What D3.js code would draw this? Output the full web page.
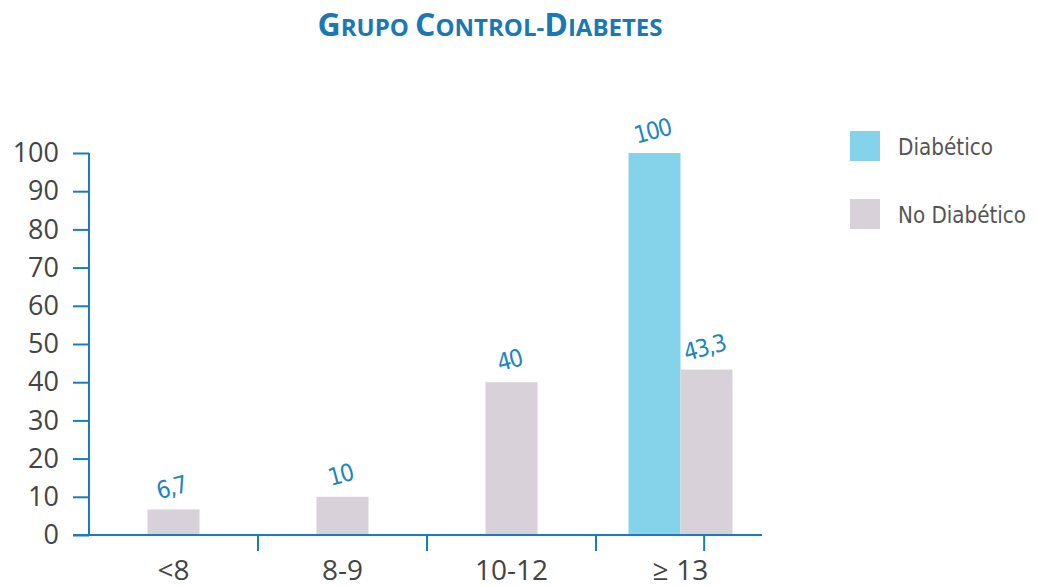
<!DOCTYPE html>
<html>
<head>
<meta charset="utf-8">
<script src="https://cdn.jsdelivr.net/npm/d3@7"></script>
<style>
  html, body { margin: 0; padding: 0; background: #fff; }
  svg { display: block; }
</style>
</head>
<body>
<svg id="chart" width="1037" height="587"></svg>
<script>
// ---- data ----
const categories = ["<8", "8-9", "10-12", "\u2265 13"];
const seriesNames = ["Diabético", "No Diabético"];
const diabetico = [null, null, null, 100];
const noDiabetico = [6.7, 10, 40, 43.3];
const yTicks = [0, 10, 20, 30, 40, 50, 60, 70, 80, 90, 100];
const titleParts = [["G", "big"], ["RUPO ", "small"], ["C", "big"], ["ONTROL-", "small"], ["D", "big"], ["IABETES", "small"]];

// ---- styles ----
const colors = { "Diabético": "#85d3ea", "No Diabético": "#d9d1d9" };
const axisColor = "#1a7db9";
const labelBlue = "#1c86c0";
const textGrey = "#444";
const narrow = "'DejaVu Sans Condensed', 'Liberation Sans Narrow', sans-serif";

const svg = d3.select("#chart");

const x = d3.scaleBand().domain(categories).range([89, 765]).padding(0);
const y = d3.scaleLinear().domain([0, 100]).range([535, 153]);
const barW = 52;

// title
const title = svg.append("text")
  .attr("x", 490).attr("y", 36)
  .attr("text-anchor", "middle")
  .attr("font-family", "'Open Sans', sans-serif")
  .attr("font-weight", 700)
  .attr("fill", "#1a78b5");
titleParts.forEach(([t, s]) => {
  title.append("tspan").text(t).attr("font-size", s === "big" ? 32 : 24);
});

// bars data
const bars = [];
categories.forEach((c, i) => {
  const vals = [diabetico[i], noDiabetico[i]];
  const present = vals.map((v, k) => ({ v, k })).filter(d => d.v != null);
  const center = x(c) + x.bandwidth() / 2;
  const start = center - present.length * barW / 2;
  present.forEach((d, j) => {
    bars.push({ cat: c, series: seriesNames[d.k], value: d.v, x0: start + j * barW });
  });
});

svg.append("g").selectAll("rect").data(bars).join("rect")
  .attr("x", d => d.x0)
  .attr("y", d => y(d.value))
  .attr("width", barW)
  .attr("height", d => y(0) - y(d.value))
  .attr("fill", d => colors[d.series]);

// value labels
svg.append("g").selectAll("text").data(bars).join("text")
  .attr("transform", d => `translate(${d.x0 + barW / 2},${y(d.value) - 14}) rotate(-15)`)
  .attr("text-anchor", "middle")
  .attr("font-family", narrow)
  .attr("font-size", 24)
  .attr("letter-spacing", -1.5)
  .attr("fill", labelBlue)
  .text(d => String(d.value).replace(".", ","));

// y axis
const yAxis = svg.append("g")
  .attr("transform", "translate(89,0)")
  .call(d3.axisLeft(y).tickValues(yTicks).tickSize(16).tickPadding(14));
yAxis.select(".domain").attr("stroke", axisColor).attr("stroke-width", 2).attr("d", `M0,${y(100)}V${y(0)}`);
yAxis.selectAll(".tick line").attr("stroke", axisColor).attr("stroke-width", 2);
yAxis.selectAll(".tick text")
  .attr("font-family", "'Open Sans', sans-serif")
  .attr("font-size", 27)
  .attr("fill", textGrey);

// x axis
const xAxis = svg.append("g")
  .attr("transform", `translate(0,${y(0)})`)
  .call(d3.axisBottom(x).tickSize(0));
xAxis.select(".domain").attr("stroke", axisColor).attr("stroke-width", 2).attr("d", "M73,0H762");
xAxis.selectAll(".tick text")
  .attr("font-family", "'Open Sans', sans-serif")
  .attr("font-size", 28)
  .attr("fill", textGrey)
  .attr("y", 45)
  .attr("dy", 0);
// boundary ticks
const boundaries = categories.slice(1).map(c => x(c));
boundaries.push(x(categories[3]) + x.bandwidth() * 0.64);
xAxis.selectAll(".bound").data(boundaries).join("line")
  .attr("class", "bound")
  .attr("x1", d => d).attr("x2", d => d)
  .attr("y1", 0).attr("y2", 16)
  .attr("stroke", axisColor).attr("stroke-width", 2);

// legend
const legendWidths = [95, 128];
const legend = svg.append("g").selectAll("g").data(seriesNames).join("g")
  .attr("transform", (d, i) => `translate(850,${131 + i * 68})`);
legend.append("rect").attr("width", 30).attr("height", 30).attr("fill", d => colors[d]);
legend.append("text")
  .attr("x", 48).attr("y", 24)
  .attr("font-family", narrow)
  .attr("font-size", 23)
  .attr("textLength", (d, i) => legendWidths[i])
  .attr("lengthAdjust", "spacingAndGlyphs")
  .attr("fill", "#555")
  .text(d => d);
</script>
</body>
</html>
